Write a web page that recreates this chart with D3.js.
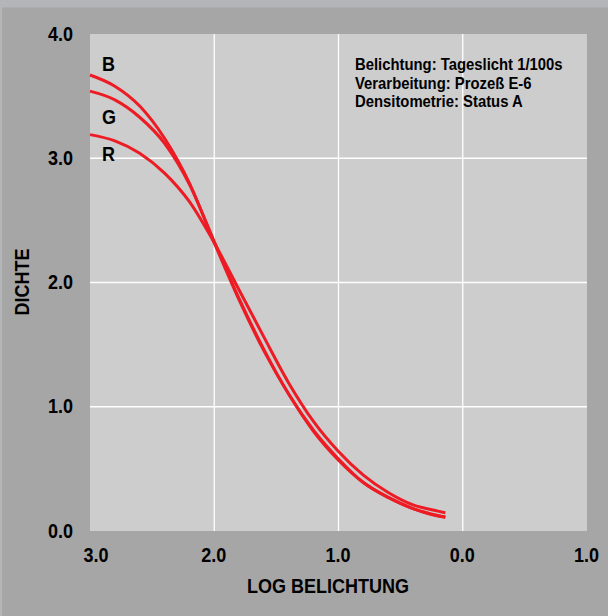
<!DOCTYPE html>
<html>
<head>
<meta charset="utf-8">
<script src="https://cdn.jsdelivr.net/npm/d3@7"></script>
<style>
  html, body { margin: 0; padding: 0; background: #b4b5b8; }
  svg { display: block; }
  text { font-family: "Liberation Sans", Arial, Helvetica, sans-serif; font-weight: bold; fill: #000; }
</style>
</head>
<body>
<svg id="chart" width="608" height="616"></svg>
<script>
// ---------- data ----------
const logE  = [3.0, 2.8, 2.6, 2.4, 2.2, 2.0, 1.8, 1.6, 1.4, 1.2, 1.0, 0.8, 0.6, 0.4, 0.2, 0.14];
const densB = [3.67, 3.58, 3.42, 3.16, 2.80, 2.32, 1.86, 1.45, 1.10, 0.80, 0.57, 0.39, 0.27, 0.18, 0.12, 0.11];
const densG = [3.54, 3.47, 3.33, 3.12, 2.79, 2.33, 1.87, 1.46, 1.10, 0.81, 0.58, 0.39, 0.27, 0.18, 0.125, 0.112];
const densR = [3.19, 3.14, 3.04, 2.88, 2.65, 2.32, 1.94, 1.56, 1.19, 0.88, 0.64, 0.45, 0.31, 0.21, 0.16, 0.147];
const seriesNames = ["B", "G", "R"];
const xTickValues = [3, 2, 1, 0, -1];
const xTickLabels = ["3.0", "2.0", "1.0", "0.0", "1.0"];
const yTickValues = [0, 1, 2, 3, 4];
const yTickLabels = ["0.0", "1.0", "2.0", "3.0", "4.0"];
const xTitle = "LOG BELICHTUNG";
const yTitle = "DICHTE";
const notes = ["Belichtung: Tageslicht 1/100s", "Verarbeitung: Prozeß E-6", "Densitometrie: Status A"];

// ---------- layout ----------
const W = 608, H = 616;
const plot = { left: 90, right: 587, top: 34, bottom: 531 };
const SX = 0.9; // horizontal condensing of the font

const svg = d3.select("#chart");
svg.append("rect").attr("x", 0).attr("y", 0).attr("width", W).attr("height", H).attr("fill", "#b4b5b8");
svg.append("rect").attr("x", 2).attr("y", 7.5).attr("width", W - 2).attr("height", H - 7.5).attr("fill", "#a6a6a6");
svg.append("rect").attr("x", plot.left).attr("y", plot.top)
  .attr("width", plot.right - plot.left).attr("height", plot.bottom - plot.top).attr("fill", "#cdcdcd");

const x = d3.scaleLinear().domain([3, -1]).range([plot.left, plot.right]);
const y = d3.scaleLinear().domain([0, 4]).range([plot.bottom, plot.top]);

// grid
const grid = svg.append("g");
grid.selectAll("line.h").data(yTickValues.filter(v => v > 0 && v < 4)).enter().append("line")
  .attr("x1", plot.left).attr("x2", plot.right)
  .attr("y1", d => y(d)).attr("y2", d => y(d))
  .attr("stroke", "#ffffff").attr("stroke-width", 1.3);
grid.selectAll("line.v").data(xTickValues.filter(v => v < 3 && v > -1)).enter().append("line")
  .attr("y1", plot.top).attr("y2", plot.bottom)
  .attr("x1", d => x(d)).attr("x2", d => x(d))
  .attr("stroke", "#ffffff").attr("stroke-width", 1.3);

// axes
const yAxis = d3.axisLeft(y).tickValues(yTickValues).tickSize(0)
  .tickFormat((d, i) => yTickLabels[i]);
const gy = svg.append("g").attr("transform", `translate(${plot.left},0)`).call(yAxis);
gy.select(".domain").remove();
gy.selectAll("text")
  .attr("font-family", null).attr("font-size", 20)
  .attr("text-anchor", "end")
  .attr("x", -17 / SX).attr("dy", "0.30em")
  .attr("transform", `scale(${SX},1)`);

const xAxis = d3.axisBottom(x).tickValues(xTickValues).tickSize(0)
  .tickFormat((d, i) => xTickLabels[i]);
const gx = svg.append("g").attr("transform", `translate(0,${plot.bottom})`).call(xAxis);
gx.select(".domain").remove();
gx.selectAll("text")
  .attr("font-family", null).attr("font-size", 20)
  .attr("text-anchor", "middle")
  .attr("y", 31.5).attr("dy", 0)
  .attr("x", (d, i) => (i === 0 ? 5.5 : -1) / SX)
  .attr("transform", `scale(${SX},1)`);

function addText(tx, ty, str, size, anchor, rotate) {
  return svg.append("text")
    .attr("transform", `translate(${tx},${ty})` + (rotate ? ` rotate(${rotate})` : "") + ` scale(${SX},1)`)
    .attr("font-size", size).attr("text-anchor", anchor || "start").text(str);
}

// axis titles
addText(328, 593, xTitle, 20, "middle");
addText(29, 282, yTitle, 20, "middle", -90);

// curves
const line = d3.line().x(d => x(d[0])).y(d => y(d[1])).curve(d3.curveMonotoneX);
const seriesVals = [densB, densG, densR];
seriesVals.forEach(vals => {
  svg.append("path")
    .datum(logE.map((e, i) => [e, vals[i]]))
    .attr("d", line)
    .attr("fill", "none")
    .attr("stroke", "#ed1c24")
    .attr("stroke-width", 3);
});

// curve labels
const labelBaselines = [71, 124, 161];
seriesNames.forEach((n, i) => addText(102, labelBaselines[i], n, 20, "start"));

// notes
const noteBaselines = [70, 88.5, 107];
notes.forEach((t, i) => addText(355, noteBaselines[i], t, 16.5, "start"));
</script>
</body>
</html>
